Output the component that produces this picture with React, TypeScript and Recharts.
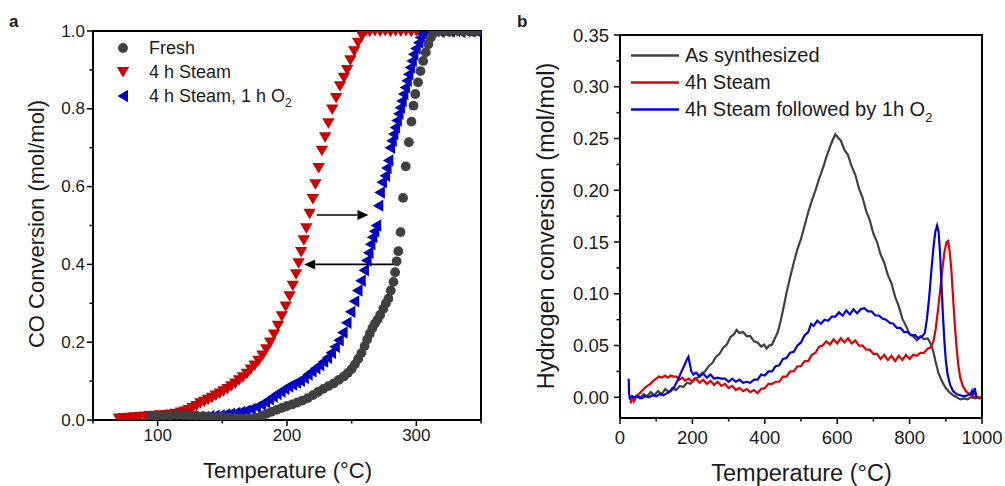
import React from 'react';
import {
  ScatterChart,
  Scatter,
  LineChart,
  Line,
  XAxis,
  YAxis,
  Legend,
  ReferenceLine,
} from 'recharts';

const FONT = '"Liberation Sans", Arial, Helvetica, sans-serif';
const INK = '#1a1a1a';

// ---------- panel a : CO conversion vs temperature ----------
const freshRows = [
  [95, 0.010], [100, 0.011], [105, 0.012], [110, 0.012], [115, 0.013], [120, 0.013], [125, 0.012],
  [130, 0.011], [135, 0.010], [140, 0.008], [145, 0.007], [150, 0.008], [155, 0.006], [160, 0.005],
  [165, 0.004], [170, 0.004], [175, 0.006], [180, 0.010], [184, 0.016], [188, 0.021], [192, 0.026],
  [196, 0.031], [200, 0.036], [204, 0.040], [208, 0.045], [212, 0.050], [216, 0.056], [220, 0.064],
  [224, 0.072], [228, 0.080], [232, 0.087], [236, 0.094], [240, 0.103], [244, 0.112], [247, 0.121],
  [250, 0.131], [252.5, 0.143], [255, 0.157], [257.5, 0.172], [260, 0.190], [262, 0.207], [264, 0.222],
  [266, 0.236], [268, 0.248], [270, 0.258], [272, 0.270], [274.5, 0.286], [276.5, 0.300], [278.4, 0.312],
  [280.2, 0.333], [282.3, 0.355], [283.6, 0.380], [284.8, 0.408], [286.1, 0.434], [287.8, 0.483],
  [289.7, 0.571], [291.8, 0.652], [294.2, 0.714], [296.2, 0.767], [297.8, 0.808], [299.2, 0.838],
  [301.3, 0.868], [303.2, 0.897], [305.3, 0.923], [307.3, 0.945], [309.3, 0.966], [311.2, 0.983],
  [313.2, 0.995], [317, 1.0], [322, 1.0], [327, 0.999], [332, 1.0], [337, 1.0], [342, 0.999], [347, 1.0],
];

const steamRows = [
  [70, 0.004], [74, 0.005], [78, 0.006], [82, 0.007], [86, 0.008], [90, 0.009], [94, 0.010], [98, 0.011],
  [102, 0.012], [106, 0.013], [110, 0.014], [114, 0.016], [118, 0.019], [121, 0.022], [124, 0.026],
  [127, 0.031], [130, 0.036], [133, 0.043], [136, 0.047], [139, 0.052], [142, 0.057], [145, 0.063],
  [148, 0.068], [151, 0.074], [154, 0.080], [157, 0.087], [160, 0.094], [163, 0.102], [166, 0.110],
  [169, 0.119], [172, 0.130], [175, 0.140], [178, 0.152], [181, 0.166], [184, 0.182], [187, 0.199],
  [190, 0.220], [193, 0.242], [196, 0.267], [199, 0.292], [202, 0.318], [204.5, 0.345], [207, 0.375],
  [209, 0.403], [211, 0.432], [213, 0.462], [215, 0.493], [217.5, 0.530], [220, 0.568], [222, 0.606],
  [224.5, 0.648], [227, 0.692], [229.5, 0.727], [232, 0.763], [235, 0.798], [238, 0.828], [241, 0.858],
  [244, 0.880], [246.5, 0.900], [249, 0.925], [252, 0.948], [255, 0.970], [258, 0.988], [261, 1.0],
  [264, 0.998], [268, 1.0], [272, 0.999], [276, 1.0], [280, 0.998], [284, 1.0], [288, 0.999], [292, 1.0],
  [296, 0.998], [300, 1.0], [304, 0.999], [308, 1.0], [312, 0.998], [316, 1.0], [320, 0.999], [324, 1.0],
  [328, 0.998], [332, 1.0], [336, 0.999], [340, 1.0], [344, 0.998], [348, 1.0],
];

const steamO2Rows = [
  [124, 0.004], [128, 0.005], [132, 0.007], [136, 0.008], [140, 0.010], [144, 0.011], [148, 0.012],
  [152, 0.014], [156, 0.016], [160, 0.018], [164, 0.021], [168, 0.024], [172, 0.028], [176, 0.033],
  [180, 0.040], [183, 0.046], [186, 0.053], [189, 0.060], [192, 0.067], [195, 0.073], [198, 0.080],
  [201, 0.086], [204, 0.091], [207, 0.096], [210, 0.101], [213, 0.108], [216, 0.117], [219, 0.125],
  [222, 0.133], [225, 0.141], [228, 0.150], [231, 0.160], [234, 0.173], [237, 0.188], [240, 0.205],
  [243, 0.225], [246, 0.250], [249, 0.278], [252, 0.305], [254.5, 0.333], [257, 0.358], [259.5, 0.385],
  [261.5, 0.410], [263, 0.430], [264.5, 0.452], [266, 0.470], [267.5, 0.485], [269, 0.500],
  [270.6, 0.551], [271.8, 0.585], [273.4, 0.611], [275.8, 0.628], [277, 0.648], [278.4, 0.667],
  [279.7, 0.700], [281, 0.718], [282.3, 0.735], [283.6, 0.752], [284.9, 0.770], [286.2, 0.787],
  [287.4, 0.803], [288.7, 0.820], [290, 0.838], [291.3, 0.855], [292.6, 0.872], [293.9, 0.889],
  [295.2, 0.906], [296.5, 0.923], [297.7, 0.940], [299.5, 0.955], [301.6, 0.970], [303, 0.983],
  [304.5, 0.993], [306, 1.0], [310, 0.999], [314, 1.0], [318, 0.998], [322, 1.0], [326, 0.999],
  [330, 1.0], [334, 0.998], [338, 1.0], [342, 0.999], [346, 1.0], [350, 0.999],
];

const arrows = [
  { from: 223, to: 263, v: 0.527 },
  { from: 282.3, to: 213.3, v: 0.4 },
];

const xTicksA = [50, 100, 150, 200, 250, 300, 350];
const xMajorA = [100, 200, 300];
const yTicksA = [0, 0.1, 0.2, 0.3, 0.4, 0.5, 0.6, 0.7, 0.8, 0.9, 1.0];
const yMajorA = [0, 0.2, 0.4, 0.6, 0.8, 1.0];

// ---------- panel b : hydrogen conversion (TPR) ----------
const asSynthRows = [
  [33, -0.002], [45, 0.001], [55, -0.001], [65, 0.003], [75, 0.001], [85, 0.005], [95, 0.002],
  [105, 0.006], [115, 0.003], [125, 0.008], [135, 0.005], [145, 0.009], [155, 0.007], [165, 0.011],
  [175, 0.010], [185, 0.014], [195, 0.013], [205, 0.018], [215, 0.019], [225, 0.023], [235, 0.025],
  [245, 0.030], [255, 0.033], [265, 0.039], [275, 0.042], [285, 0.048], [295, 0.051], [305, 0.058],
  [315, 0.061], [322, 0.065], [330, 0.062], [340, 0.063], [350, 0.059], [360, 0.059], [370, 0.054],
  [380, 0.053], [390, 0.049], [398, 0.051], [405, 0.047], [412, 0.050], [420, 0.051], [428, 0.057],
  [436, 0.063], [444, 0.074], [452, 0.087], [460, 0.101], [470, 0.116], [480, 0.130], [490, 0.143],
  [500, 0.153], [510, 0.166], [520, 0.179], [530, 0.190], [540, 0.200], [550, 0.211], [560, 0.221],
  [570, 0.232], [580, 0.242], [588, 0.249], [595, 0.254], [602, 0.251], [610, 0.248], [620, 0.239],
  [630, 0.234], [640, 0.223], [650, 0.215], [660, 0.202], [670, 0.193], [680, 0.180], [690, 0.171],
  [700, 0.158], [710, 0.150], [720, 0.138], [730, 0.130], [740, 0.118], [750, 0.110], [760, 0.097],
  [770, 0.088], [780, 0.076], [790, 0.069], [800, 0.061], [810, 0.059], [820, 0.055], [830, 0.059],
  [840, 0.056], [850, 0.057], [858, 0.052], [865, 0.045], [872, 0.034], [880, 0.023], [890, 0.015],
  [900, 0.009], [910, 0.005], [920, 0.002], [930, 0.000], [940, -0.002], [950, -0.001], [960, -0.002],
  [970, 0.000], [980, -0.001], [990, 0.000], [998, 0.000],
];

const steamTprRows = [
  [29, -0.006], [33, 0.002], [38, -0.004], [45, 0.001], [52, 0.003], [60, 0.006], [68, 0.009],
  [76, 0.011], [84, 0.013], [92, 0.016], [100, 0.018], [108, 0.020], [116, 0.019], [124, 0.021],
  [132, 0.019], [140, 0.021], [148, 0.020], [156, 0.020], [164, 0.017], [172, 0.019], [180, 0.016],
  [190, 0.018], [200, 0.015], [210, 0.018], [220, 0.014], [230, 0.017], [240, 0.013], [250, 0.016],
  [260, 0.012], [270, 0.015], [280, 0.011], [290, 0.013], [300, 0.009], [310, 0.011], [320, 0.007],
  [330, 0.009], [340, 0.006], [350, 0.008], [360, 0.005], [370, 0.007], [380, 0.004], [390, 0.008],
  [400, 0.009], [410, 0.013], [420, 0.013], [430, 0.015], [440, 0.015], [450, 0.020], [460, 0.020],
  [470, 0.025], [480, 0.025], [490, 0.030], [500, 0.030], [510, 0.035], [520, 0.035], [530, 0.041],
  [540, 0.043], [550, 0.049], [560, 0.050], [570, 0.054], [580, 0.051], [590, 0.056], [600, 0.052],
  [610, 0.057], [620, 0.053], [630, 0.057], [640, 0.052], [650, 0.055], [660, 0.050], [670, 0.050],
  [680, 0.046], [690, 0.046], [700, 0.042], [710, 0.042], [720, 0.037], [730, 0.041], [740, 0.036],
  [750, 0.040], [760, 0.035], [770, 0.040], [780, 0.036], [790, 0.041], [800, 0.037], [810, 0.041],
  [820, 0.040], [830, 0.043], [840, 0.043], [850, 0.047], [858, 0.048], [866, 0.054], [872, 0.066],
  [878, 0.083], [884, 0.102], [890, 0.122], [896, 0.140], [902, 0.150], [906, 0.151], [910, 0.143],
  [915, 0.125], [920, 0.097], [925, 0.070], [930, 0.047], [935, 0.030], [940, 0.019], [947, 0.011],
  [955, 0.006], [965, 0.003], [975, 0.001], [985, 0.000], [995, -0.001], [1000, 0.000],
];

const steamO2TprRows = [
  [24, 0.018], [25, 0.004], [27, -0.001], [33, 0.001], [40, 0.000], [50, 0.001], [60, -0.001],
  [70, 0.001], [80, 0.000], [90, 0.002], [100, 0.001], [110, 0.003], [120, 0.002], [130, 0.004],
  [140, 0.006], [150, 0.010], [160, 0.017], [170, 0.025], [178, 0.031], [184, 0.036], [189, 0.039],
  [193, 0.032], [197, 0.025], [203, 0.022], [210, 0.024], [220, 0.020], [230, 0.023], [240, 0.019],
  [250, 0.022], [260, 0.018], [270, 0.019], [280, 0.018], [290, 0.018], [300, 0.015], [310, 0.018],
  [320, 0.015], [330, 0.017], [340, 0.014], [350, 0.015], [360, 0.014], [370, 0.017], [380, 0.017],
  [390, 0.022], [400, 0.021], [410, 0.025], [420, 0.025], [430, 0.030], [440, 0.031], [450, 0.037],
  [460, 0.038], [470, 0.043], [480, 0.044], [490, 0.050], [500, 0.053], [510, 0.060], [520, 0.063],
  [528, 0.071], [535, 0.069], [545, 0.074], [555, 0.071], [565, 0.075], [575, 0.074], [585, 0.078],
  [595, 0.078], [605, 0.082], [615, 0.079], [625, 0.084], [635, 0.080], [645, 0.085], [655, 0.081],
  [665, 0.085], [675, 0.086], [685, 0.083], [695, 0.083], [705, 0.079], [715, 0.079], [725, 0.076],
  [735, 0.075], [745, 0.072], [755, 0.071], [765, 0.067], [775, 0.067], [785, 0.063], [795, 0.063],
  [805, 0.060], [815, 0.060], [825, 0.057], [835, 0.059], [842, 0.062], [848, 0.076], [854, 0.096],
  [860, 0.122], [866, 0.145], [871, 0.160], [876, 0.166], [880, 0.160], [884, 0.140], [888, 0.110],
  [892, 0.080], [896, 0.055], [900, 0.036], [905, 0.022], [912, 0.012], [920, 0.006], [930, 0.003],
  [940, 0.002], [950, 0.001], [960, 0.002], [968, 0.003], [972, 0.006], [975, 0.002], [980, 0.009],
  [983, 0.003], [986, 0.000],
];

const xTicksB = [0, 100, 200, 300, 400, 500, 600, 700, 800, 900, 1000];
const xMajorB = [0, 200, 400, 600, 800, 1000];
const yTicksB = [0, 0.025, 0.05, 0.075, 0.1, 0.125, 0.15, 0.175, 0.2, 0.225, 0.25, 0.275, 0.3, 0.325, 0.35];
const yMajorB = [0, 0.05, 0.1, 0.15, 0.2, 0.25, 0.3, 0.35];

const toPts = (rows: number[][]) => rows.map(([t, v]) => ({ t, v }));

const GREY = '#404040';
const RED_A = '#cc0000';
const BLUE_A = '#0000c4';
const RED_B = '#e00000';
const BLUE_B = '#0000e0';

// layout of each panel (chart size, margins, axis sizes)
const LAY_A = { w: 500, h: 486, top: 31, right: 19, yW: 93, xH: 66 };
const LAY_B = { w: 505, h: 486, top: 35, right: 23, yW: 120, xH: 68 };

// ---------- shapes ----------
const Dot = ({ cx, cy }: any) => <circle cx={cx} cy={cy} r={4.9} fill={GREY} />;
const DownTri = ({ cx, cy }: any) => (
  <polygon points={`${cx - 6.2},${cy - 5} ${cx + 6.2},${cy - 5} ${cx},${cy + 5.5}`} fill={RED_A} />
);
const LeftTri = ({ cx, cy }: any) => (
  <polygon points={`${cx - 5.5},${cy} ${cx + 5},${cy - 6.2} ${cx + 5},${cy + 6.2}`} fill={BLUE_A} />
);

const Arrow = (p: any) => {
  const { x1, y1, x2, y2 } = p;
  const dir = Math.sign(x2 - x1) || 1;
  const hl = 11;
  const hw = 5;
  return (
    <g>
      <line x1={x1} y1={y1} x2={x2 - dir * hl} y2={y2} stroke="#000" strokeWidth={1.6} />
      <polygon points={`${x2},${y2} ${x2 - dir * hl},${y2 - hw} ${x2 - dir * hl},${y2 + hw}`} fill="#000" />
    </g>
  );
};

// x-axis title plus the top and right sides of the plot box
const XTitleAndFrame = (lay: typeof LAY_A, title: string, cx: number, cy: number, fs: number) => {
  const left = lay.yW;
  const right = lay.w - lay.right;
  const top = lay.top;
  const bottom = lay.h - lay.xH;
  return (
    <g>
      <path d={`M${left},${top} L${right},${top} L${right},${bottom}`} fill="none" stroke="#000" strokeWidth={2} />
      <text x={cx} y={cy} textAnchor="middle" dominantBaseline="central" fontSize={fs} fontFamily={FONT} fill={INK}>
        {title}
      </text>
    </g>
  );
};

// tick with major/minor marks; tickSize 6 + tickMargin 3 = 9 px back to the axis line
const AxisTick = (props: any) => {
  const { x, y, payload, side, majors, fmt, fontSize, gap } = props;
  const v = payload.value;
  const isMajor = majors.some((m: number) => Math.abs(m - v) < 1e-9);
  const len = isMajor ? 6 : 3.5;
  if (side === 'left') {
    const ax = x + 9;
    return (
      <g>
        <line x1={ax} x2={ax - len} y1={y} y2={y} stroke="#000" strokeWidth={1.5} />
        {isMajor && (
          <text x={ax - gap} y={y} textAnchor="end" dominantBaseline="central" fontSize={fontSize} fontFamily={FONT} fill={INK}>
            {fmt(v)}
          </text>
        )}
      </g>
    );
  }
  const ay = y - 9;
  return (
    <g>
      <line x1={x} x2={x} y1={ay} y2={ay + len} stroke="#000" strokeWidth={1.5} />
      {isMajor && (
        <text x={x} y={ay + gap} textAnchor="middle" dominantBaseline="central" fontSize={fontSize} fontFamily={FONT} fill={INK}>
          {fmt(v)}
        </text>
      )}
    </g>
  );
};

const legendA = [
  { name: 'Fresh', kind: 'dot' },
  { name: '4 h Steam', kind: 'down' },
  { name: '4 h Steam, 1 h O', sub: '2', kind: 'left' },
];

const legendB = [
  { name: 'As synthesized', color: GREY },
  { name: '4h Steam', color: RED_B },
  { name: '4h Steam followed by 1h O', sub: '2', color: BLUE_B },
];

const LegendContentA = () => (
  <div style={{ fontFamily: FONT, fontSize: 18, color: INK }}>
    {legendA.map((it) => (
      <div key={it.name} style={{ display: 'flex', alignItems: 'center', height: 24, whiteSpace: 'nowrap' }}>
        <svg width={38} height={24}>
          {it.kind === 'dot' && <Dot cx={12} cy={12} />}
          {it.kind === 'down' && <DownTri cx={12} cy={12} />}
          {it.kind === 'left' && <LeftTri cx={12} cy={12} />}
        </svg>
        <span>
          {it.name}
          {it.sub && <span style={{ fontSize: 12, position: 'relative', top: 5 }}>{it.sub}</span>}
        </span>
      </div>
    ))}
  </div>
);

const LegendContentB = () => (
  <div style={{ fontFamily: FONT, fontSize: 20, color: INK }}>
    {legendB.map((it) => (
      <div key={it.name} style={{ display: 'flex', alignItems: 'center', height: 27, whiteSpace: 'nowrap' }}>
        <svg width={54} height={27}>
          <line x1={0} x2={48} y1={13.5} y2={13.5} stroke={it.color} strokeWidth={2.5} />
        </svg>
        <span>
          {it.name}
          {it.sub && <span style={{ fontSize: 13, position: 'relative', top: 6 }}>{it.sub}</span>}
        </span>
      </div>
    ))}
  </div>
);

const axisLine = { stroke: '#000', strokeWidth: 2 };

function PanelA() {
  return (
    <ScatterChart width={LAY_A.w} height={LAY_A.h} margin={{ top: LAY_A.top, right: LAY_A.right, bottom: 0, left: 0 }}>
      <XAxis
        type="number"
        dataKey="t"
        domain={[50, 350]}
        ticks={xTicksA}
        interval={0}
        allowDataOverflow
        height={LAY_A.xH}
        axisLine={axisLine}
        tickLine={false}
        tickSize={6}
        tickMargin={3}
        tick={(p: any) => <AxisTick {...p} side="bottom" majors={xMajorA} fmt={(v: number) => String(v)} fontSize={17} gap={15} />}
        label={{ content: () => XTitleAndFrame(LAY_A, 'Temperature (°C)', 287.5, 470, 22) }}
      />
      <YAxis
        type="number"
        dataKey="v"
        domain={[0, 1]}
        ticks={yTicksA}
        interval={0}
        allowDataOverflow
        width={LAY_A.yW}
        axisLine={axisLine}
        tickLine={false}
        tickSize={6}
        tickMargin={3}
        tick={(p: any) => <AxisTick {...p} side="left" majors={yMajorA} fmt={(v: number) => v.toFixed(1)} fontSize={17} gap={8} />}
        label={{
          content: () => (
            <g>
              <text x={36} y={224} transform="rotate(-90 36 224)" textAnchor="middle" dominantBaseline="central" fontSize={22} fontFamily={FONT} fill={INK}>
                CO Conversion (mol/mol)
              </text>
              <text x={9} y={21} fontSize={17} fontWeight="bold" fontFamily={FONT} fill={INK} dominantBaseline="central">
                a
              </text>
            </g>
          ),
        }}
      />
      <Scatter data={toPts(steamRows)} shape={(p: any) => <DownTri cx={p.cx} cy={p.cy} />} isAnimationActive={false} />
      <Scatter data={toPts(steamO2Rows)} shape={(p: any) => <LeftTri cx={p.cx} cy={p.cy} />} isAnimationActive={false} />
      <Scatter data={toPts(freshRows)} shape={(p: any) => <Dot cx={p.cx} cy={p.cy} />} isAnimationActive={false} />
      {arrows.map((a) => (
        <ReferenceLine
          key={a.from}
          segment={[{ x: a.from, y: a.v }, { x: a.to, y: a.v }]}
          shape={(p: any) => <Arrow {...p} />}
        />
      ))}
      <Legend
        layout="vertical"
        align="center"
        verticalAlign="middle"
        width={320}
        wrapperStyle={{ left: 111, top: 36 }}
        content={() => <LegendContentA />}
      />
    </ScatterChart>
  );
}

function PanelB() {
  return (
    <LineChart width={LAY_B.w} height={LAY_B.h} margin={{ top: LAY_B.top, right: LAY_B.right, bottom: 0, left: 0 }}>
      <XAxis
        type="number"
        dataKey="t"
        domain={[0, 1000]}
        ticks={xTicksB}
        interval={0}
        allowDataOverflow
        height={LAY_B.xH}
        axisLine={axisLine}
        tickLine={false}
        tickSize={6}
        tickMargin={3}
        tick={(p: any) => <AxisTick {...p} side="bottom" majors={xMajorB} fmt={(v: number) => String(v)} fontSize={18.5} gap={19} />}
        label={{ content: () => XTitleAndFrame(LAY_B, 'Temperature (°C)', 301.5, 473, 23.5) }}
      />
      <YAxis
        type="number"
        dataKey="v"
        domain={[-0.02, 0.35]}
        ticks={yTicksB}
        interval={0}
        allowDataOverflow
        width={LAY_B.yW}
        axisLine={axisLine}
        tickLine={false}
        tickSize={6}
        tickMargin={3}
        tick={(p: any) => <AxisTick {...p} side="left" majors={yMajorB} fmt={(v: number) => v.toFixed(2)} fontSize={18.5} gap={11} />}
        label={{
          content: () => (
            <g>
              <text x={46} y={226} transform="rotate(-90 46 226)" textAnchor="middle" dominantBaseline="central" fontSize={23.5} fontFamily={FONT} fill={INK}>
                Hydrogen conversion (mol/mol)
              </text>
              <text x={17} y={21} fontSize={17} fontWeight="bold" fontFamily={FONT} fill={INK} dominantBaseline="central">
                b
              </text>
            </g>
          ),
        }}
      />
      <Line data={toPts(asSynthRows)} dataKey="v" stroke={GREY} strokeWidth={2.2} dot={false} type="linear" isAnimationActive={false} />
      <Line data={toPts(steamTprRows)} dataKey="v" stroke={RED_B} strokeWidth={2.2} dot={false} type="linear" isAnimationActive={false} />
      <Line data={toPts(steamO2TprRows)} dataKey="v" stroke={BLUE_B} strokeWidth={2.2} dot={false} type="linear" isAnimationActive={false} />
      <Legend
        layout="vertical"
        align="center"
        verticalAlign="middle"
        width={340}
        wrapperStyle={{ left: 131, top: 41.5 }}
        content={() => <LegendContentB />}
      />
    </LineChart>
  );
}

export default function App() {
  return (
    <div style={{ position: 'absolute', left: 0, top: 0, width: 1005, height: 486, background: '#fff' }}>
      <div style={{ position: 'absolute', left: 0, top: 0 }}>
        <PanelA />
      </div>
      <div style={{ position: 'absolute', left: 500, top: 0 }}>
        <PanelB />
      </div>
    </div>
  );
}
